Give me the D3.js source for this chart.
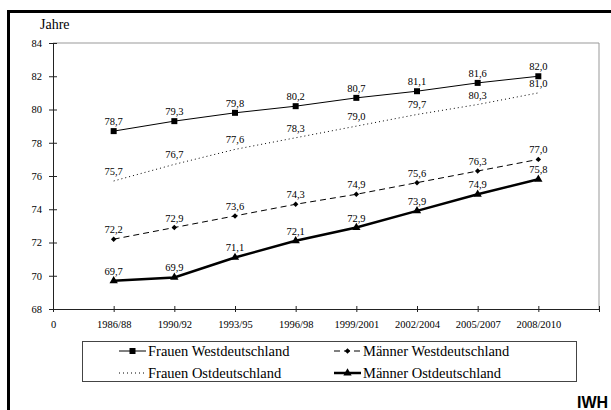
<!DOCTYPE html>
<html>
<head>
<meta charset="utf-8">
<script src="https://cdn.jsdelivr.net/npm/d3@7"></script>
</head>
<body style="margin:0;background:#fff">
<svg id="chart" width="611" height="410" style="display:block"></svg>
<script>
// Lebenserwartung bei Geburt, West- und Ostdeutschland
const categories = ["1986/88", "1990/92", "1993/95", "1996/98", "1999/2001", "2002/2004", "2005/2007", "2008/2010"];
const frauenWest = [78.7, 79.3, 79.8, 80.2, 80.7, 81.1, 81.6, 82.0];
const frauenOst  = [75.7, 76.7, 77.6, 78.3, 79.0, 79.7, 80.3, 81.0];
const maennerWest = [72.2, 72.9, 73.6, 74.3, 74.9, 75.6, 76.3, 77.0];
const maennerOst  = [69.7, 69.9, 71.1, 72.1, 72.9, 73.9, 74.9, 75.8];
const yTicks = [68, 70, 72, 74, 76, 78, 80, 82, 84];
const seriesNames = ["Frauen Westdeutschland", "Männer Westdeutschland", "Frauen Ostdeutschland", "Männer Ostdeutschland"];

const SERIF = "'Liberation Serif'";
const SANS = "'Liberation Sans'";

const svg = d3.select("#chart");
const fmt = v => d3.format(".1f")(v).replace(".", ",");

// outer frame
svg.append("rect")
  .attr("x", 8.5).attr("y", 11.5).attr("width", 700).attr("height", 500)
  .attr("fill", "none").attr("stroke", "#000").attr("stroke-width", 3);

const plotL = 53, plotR = 599, plotT = 43, plotB = 309;

// category axis: origin slot "0", eight periods, closing slot
const x = d3.scalePoint().domain(["0", ...categories, " "]).range([plotL, plotR]);
const y = d3.scaleLinear().domain([68, 84]).range([plotB, plotT]);

// plot frame (top and right edges)
svg.append("path")
  .attr("d", `M${plotL},${plotT}H${plotR}V${plotB}`)
  .attr("fill", "none").attr("stroke", "#999").attr("stroke-width", 1);

// y axis
const gy = svg.append("g").attr("transform", `translate(${plotL},0)`)
  .call(d3.axisLeft(y).tickValues(yTicks).tickSizeOuter(0).tickSizeInner(4).tickPadding(7).tickFormat(d3.format("d")));
gy.selectAll(".tick line").attr("x1", -4).attr("x2", 4).attr("stroke", "#222");
gy.select(".domain").attr("stroke", "#222");
gy.selectAll("text").style("font-family", SERIF).style("font-size", "10.5px").attr("fill", "#000");

// x axis
const gx = svg.append("g").attr("transform", `translate(0,${plotB})`)
  .call(d3.axisBottom(x).tickSizeOuter(0).tickSizeInner(3).tickPadding(9));
gx.selectAll(".tick line").attr("y1", -3).attr("y2", 3).attr("stroke", "#222");
gx.select(".domain").attr("stroke", "#222");
gx.selectAll("text").style("font-family", SERIF).style("font-size", "10.5px").attr("fill", "#000");

// axis title
svg.append("text").attr("x", 40).attr("y", 29)
  .style("font-family", SERIF).style("font-size", "14px").text("Jahre");

const series = [
  { name: seriesNames[0], values: frauenWest, width: 1, dash: null, marker: "square", lblOff: 6 },
  { name: seriesNames[2], values: frauenOst, width: 1, dash: "1,3", marker: null, lblOff: 6 },
  { name: seriesNames[1], values: maennerWest, width: 1, dash: "6,4", marker: "diamond", lblOff: 6 },
  { name: seriesNames[3], values: maennerOst, width: 2.5, dash: null, marker: "triangle", lblOff: 6 }
];

// markers: square, diamond (square turned 45°), triangle
const symbolType = { square: d3.symbolSquare, diamond: d3.symbolSquare, triangle: d3.symbolTriangle };
const symbolSize = { square: 36, diamond: 15, triangle: 30 };
const symbolRot = { square: 0, diamond: 45, triangle: 0 };

const line = d3.line().x((d, i) => x(categories[i])).y(d => y(d));

series.forEach(s => {
  svg.append("path")
    .attr("d", line(s.values))
    .attr("fill", "none").attr("stroke", "#000")
    .attr("stroke-width", s.width)
    .attr("stroke-dasharray", s.dash);
  if (s.marker) {
    svg.append("g").selectAll("path").data(s.values).join("path")
      .attr("transform", (d, i) => `translate(${x(categories[i])},${y(d)}) rotate(${symbolRot[s.marker]})`)
      .attr("d", d3.symbol().type(symbolType[s.marker]).size(symbolSize[s.marker]))
      .attr("fill", "#000");
  }
  svg.append("g").selectAll("text").data(s.values).join("text")
    .attr("x", (d, i) => x(categories[i]))
    .attr("y", d => y(d) - s.lblOff)
    .attr("text-anchor", "middle")
    .style("font-family", SERIF).style("font-size", "10.5px")
    .text(fmt);
});

// legend
const lg = svg.append("g");
lg.append("rect").attr("x", 82.5).attr("y", 341.5).attr("width", 494).attr("height", 40)
  .attr("fill", "#fff").attr("stroke", "#444").attr("stroke-width", 1);
const legendPos = [
  { s: series[0], x: 119, y: 351 },
  { s: series[2], x: 334, y: 351 },
  { s: series[1], x: 119, y: 373 },
  { s: series[3], x: 334, y: 373 }
];
legendPos.forEach(p => {
  lg.append("line").attr("x1", p.x).attr("x2", p.x + 27).attr("y1", p.y).attr("y2", p.y)
    .attr("stroke", "#000").attr("stroke-width", p.s.width).attr("stroke-dasharray", p.s.dash);
  if (p.s.marker) {
    lg.append("path").attr("transform", `translate(${p.x + 13.5},${p.y}) rotate(${symbolRot[p.s.marker]})`)
      .attr("d", d3.symbol().type(symbolType[p.s.marker]).size(symbolSize[p.s.marker]))
      .attr("fill", "#000");
  }
  lg.append("text").attr("x", p.x + 29).attr("y", p.y + 5)
    .style("font-family", SERIF).style("font-size", "14.5px").text(p.s.name);
});

// publisher mark
svg.append("text").attr("x", 577).attr("y", 408)
  .style("font-family", SANS).style("font-weight", "bold").style("font-size", "16px").text("IWH");
</script>
</body>
</html>
